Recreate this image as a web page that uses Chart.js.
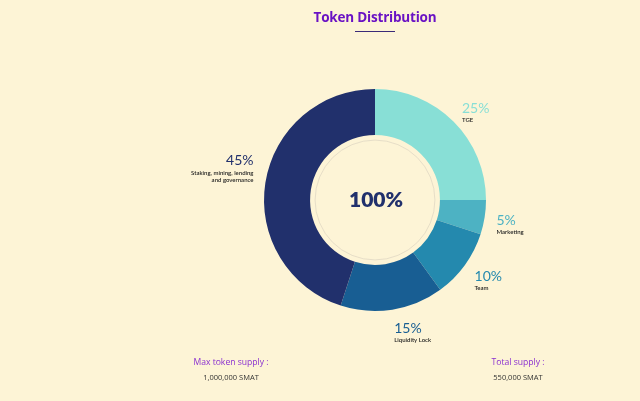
<!DOCTYPE html>
<html>
<head>
<meta charset="utf-8">
<script src="https://cdn.jsdelivr.net/npm/chart.js@4.4.0/dist/chart.umd.min.js"></script>
<style>
  html, body { margin: 0; padding: 0; background: #fdf4d6; }
  #wrap { position: relative; width: 640px; height: 401px; overflow: hidden; }
  #token-chart { position: absolute; left: 0; top: 0; }
  .title {
    position: absolute; left: 0; width: 750px; top: 8px; text-align: center;
    font-family: "Open Sans", sans-serif; font-weight: 700; font-size: 13.5px; color: #6a12c4;
    letter-spacing: -0.2px;
  }
  .rule { position: absolute; left: 355px; top: 31px; width: 40px; height: 1px; background: #3b2a78; }
  .supply { position: absolute; top: 356px; text-align: center; font-family: "Open Sans", sans-serif; }
  .supply .k { font-size: 8.6px; color: #8a2fd0; }
  .supply .v { font-size: 7.5px; color: #333; margin-top: 4px; }
</style>
</head>
<body>
<div id="wrap">
  <canvas id="token-chart" width="640" height="401"></canvas>
  <div class="title">Token Distribution</div>
  <div class="rule"></div>
  <div class="supply" style="left:176px;width:110px"><div class="k">Max token supply :</div><div class="v">1,000,000 SMAT</div></div>
  <div class="supply" style="left:463px;width:110px"><div class="k">Total supply :</div><div class="v">550,000 SMAT</div></div>
</div>
<script>
const categories = ['TGE', 'Marketing', 'Team', 'Liquidity Lock', 'Staking, mining, lending|and governance'];
const shares = [25, 5, 10, 15, 45];
const colors = ['#88dfd6', '#4db2c3', '#2489ae', '#185e93', '#21306c'];

// labels outside each slice, at its middle angle
const sliceLabels = {
  id: 'sliceLabels',
  afterDatasetsDraw(chart) {
    const ctx = chart.ctx;
    const meta = chart.getDatasetMeta(0);
    meta.data.forEach((arc, i) => {
      const mid = (arc.startAngle + arc.endAngle) / 2;
      const x = arc.x + Math.cos(mid) * (arc.outerRadius + 12);
      const y = arc.y + Math.sin(mid) * (arc.outerRadius + 19);
      const right = Math.cos(mid) >= 0;
      const lines = categories[i].split('|');
      // right side: percent centred on anchor; left side: block ends at anchor
      const pctY = right ? y : y - 7 * (lines.length - 1) - 12;
      ctx.save();
      ctx.textAlign = right ? 'left' : 'right';
      ctx.textBaseline = 'middle';
      ctx.fillStyle = colors[i];
      ctx.font = '400 14px Lato, sans-serif';
      ctx.fillText(shares[i] + '%', x, pctY);
      ctx.fillStyle = '#1d1d1d';
      ctx.font = '600 6px Lato, sans-serif';
      lines.forEach((l, j) => ctx.fillText(l, x, pctY + 12 + j * 7));
      ctx.restore();
    });
  }
};

const centerText = {
  id: 'centerText',
  afterDatasetsDraw(chart) {
    const ctx = chart.ctx;
    const arc = chart.getDatasetMeta(0).data[0];
    ctx.save();
    ctx.beginPath();
    ctx.arc(arc.x, arc.y, arc.innerRadius - 5, 0, Math.PI * 2);
    ctx.strokeStyle = '#ddd4c2';
    ctx.lineWidth = 0.7;
    ctx.stroke();
    ctx.fillStyle = '#21306c';
    ctx.font = '800 21px Lato, sans-serif';
    ctx.textAlign = 'center';
    ctx.textBaseline = 'middle';
    ctx.fillText(shares.reduce((a, b) => a + b, 0) + '%', arc.x + 1, arc.y);
    ctx.restore();
  }
};

new Chart(document.getElementById('token-chart').getContext('2d'), {
  type: 'doughnut',
  data: {
    labels: categories.map(c => c.replace('|', ' ')),
    datasets: [{
      data: shares,
      backgroundColor: colors,
      borderWidth: 0
    }]
  },
  options: {
    responsive: false,
    animation: false,
    cutout: '58.5%',
    layout: { padding: { left: 264, right: 154, top: 89, bottom: 90 } },
    plugins: { legend: { display: false }, tooltip: { enabled: false } }
  },
  plugins: [sliceLabels, centerText]
});
</script>
</body>
</html>
